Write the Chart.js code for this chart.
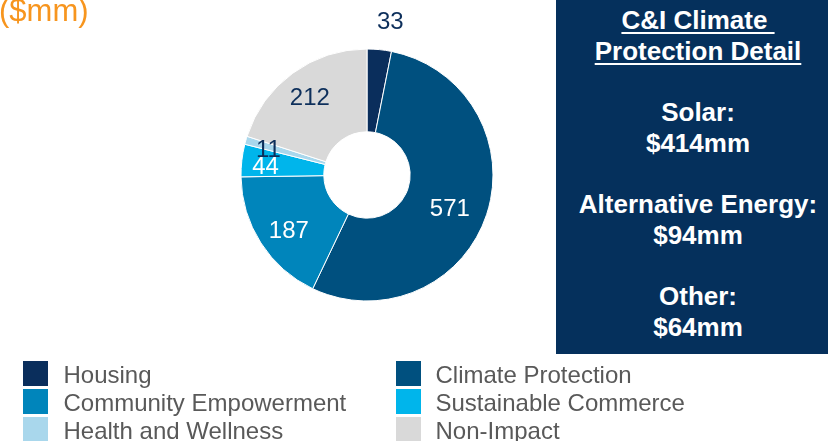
<!DOCTYPE html>
<html>
<head>
<meta charset="utf-8">
<script src="https://cdn.jsdelivr.net/npm/chart.js@4.4.0/dist/chart.umd.min.js"></script>
<style>
  html, body { margin: 0; padding: 0; background: #ffffff; }
  #wrap { position: relative; width: 828px; height: 441px; overflow: hidden;
          font-family: "Liberation Sans", Arial, Helvetica, sans-serif; }
  #chart { position: absolute; left: 0; top: 0; }
  #unit { position: absolute; left: -1px; top: -5px; font-size: 31px; line-height: 31px;
          color: #f7951e; white-space: nowrap; }
  #detail { position: absolute; left: 556px; top: 0; width: 272px; height: 354px; background: #05305c; }
  #detailText { position: absolute; left: 568px; top: 5px; width: 260px; text-align: center;
                color: #ffffff; font-weight: bold; font-size: 26px; line-height: 30.7px; white-space: nowrap; }
  #detailText u { text-decoration-thickness: 2px; text-underline-offset: 3px; }
  .lg-box { position: absolute; width: 25px; height: 25px; }
  .lg-text { position: absolute; font-size: 24px; line-height: 24px; color: #595959; white-space: nowrap; }
</style>
</head>
<body>
<div id="wrap">
  <canvas id="chart" width="828" height="441"></canvas>
  <div id="unit">($mm)</div>
  <div id="detail"></div>
  <div id="detailText"></div>
  <div id="legend"></div>
</div>
<script>
// Portfolio by impact category, $mm
const categories = ['Housing', 'Climate Protection', 'Community Empowerment',
                    'Sustainable Commerce', 'Health and Wellness', 'Non-Impact'];
const amounts = [33, 571, 187, 44, 11, 212];
const sliceColors = ['#0a2e5c', '#00507f', '#0085bb', '#00b5eb', '#a9d7ec', '#d9d9d9'];

// Climate protection breakdown, $mm
const detailTitle = ['C&I Climate', 'Protection Detail'];
const detailNames = ['Solar:', 'Alternative Energy:', 'Other:'];
const detailAmounts = [414, 94, 64];

// Value label placement: distance from centre, angular nudge (degrees), colour
const labelRadius = [156, 89, 95, 102, 102, 97];
const labelNudge = [3, 3, -2, -1, -1, 0];
const labelColor = ['#0d2f5b', '#ffffff', '#ffffff', '#ffffff', '#0d2f5b', '#0d2f5b'];

// Side panel text
const dt = document.getElementById('detailText');
let html = '<u>' + detailTitle[0] + '&nbsp;</u><br><u>' + detailTitle[1] + '</u><br>';
detailNames.forEach((n, i) => {
  html += '<br>' + n + '<br>$' + detailAmounts[i] + 'mm<br>';
});
dt.innerHTML = html;

// Two-column legend
const legend = document.getElementById('legend');
categories.forEach((name, i) => {
  const col = i % 2, row = Math.floor(i / 2);
  const box = document.createElement('div');
  box.className = 'lg-box';
  box.style.left = (col ? 396 : 23) + 'px';
  box.style.top = (361 + row * 28) + 'px';
  box.style.background = sliceColors[i];
  legend.appendChild(box);
  const t = document.createElement('div');
  t.className = 'lg-text';
  t.textContent = name;
  t.style.left = (col ? 435.5 : 63.5) + 'px';
  t.style.top = (362.7 + row * 28) + 'px';
  legend.appendChild(t);
});

// Draws each slice's value next to / inside its arc
const valueLabels = {
  id: 'valueLabels',
  afterDatasetsDraw(chart) {
    const ctx = chart.ctx;
    const meta = chart.getDatasetMeta(0);
    ctx.save();
    ctx.font = '24px "Liberation Sans", Arial, sans-serif';
    ctx.textAlign = 'center';
    ctx.textBaseline = 'alphabetic';
    meta.data.forEach((arc, i) => {
      const p = arc.getProps(['x', 'y', 'startAngle', 'endAngle'], true);
      const a = (p.startAngle + p.endAngle) / 2 + labelNudge[i] * Math.PI / 180;
      const r = labelRadius[i];
      ctx.fillStyle = labelColor[i];
      ctx.fillText(String(amounts[i]), p.x + r * Math.cos(a), p.y + r * Math.sin(a) + 8.6);
    });
    ctx.restore();
  }
};

new Chart(document.getElementById('chart'), {
  type: 'doughnut',
  data: {
    labels: categories,
    datasets: [{
      data: amounts,
      backgroundColor: sliceColors,
      borderColor: '#ffffff',
      borderWidth: 1
    }]
  },
  options: {
    responsive: false,
    animation: false,
    radius: 126,
    cutout: 43,
    layout: { padding: { left: 241, right: 335, top: 49, bottom: 140 } },
    plugins: {
      legend: { display: false },
      tooltip: { enabled: false },
      title: { display: false }
    }
  },
  plugins: [valueLabels]
});
</script>
</body>
</html>
